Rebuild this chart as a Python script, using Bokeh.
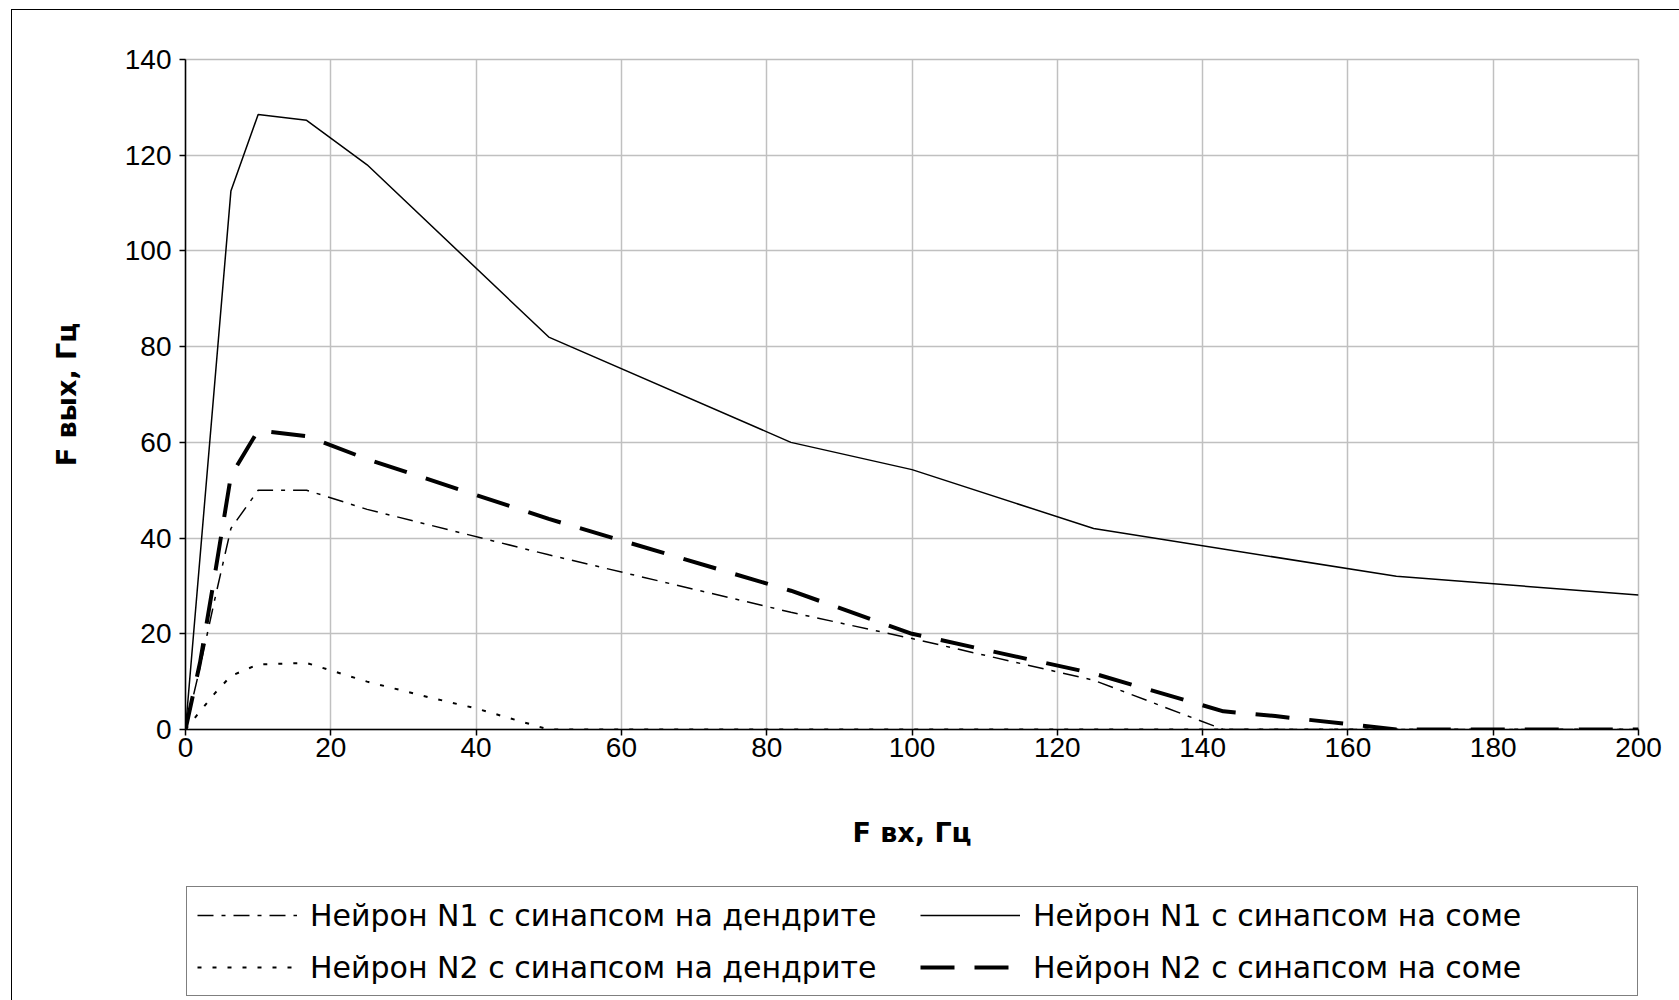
from bokeh.plotting import figure
from bokeh.models import Range1d, FixedTicker, Legend, LegendItem
from bokeh.layouts import column
from bokeh.embed import file_html
from bokeh.resources import INLINE

# Data (F in, Hz -> F out, Hz)
x_n1_dend = [0, 2, 4, 6.25, 10, 16.67, 25, 50, 83.33, 100, 125, 142.86, 200]
y_n1_dend = [0, 13, 27, 42, 50, 50, 46, 36.5, 24.5, 19, 10.3, 0, 0]

x_n1_soma = [0, 6.25, 10, 16.67, 25, 50, 83.33, 100, 125, 166.67, 200]
y_n1_soma = [0, 112.5, 128.5, 127.3, 118, 82, 60, 54.3, 42, 32, 28.1]

x_n2_dend = [0, 2, 4, 6.25, 10, 16.67, 25, 33.33, 40, 50, 200]
y_n2_dend = [0, 3.8, 7.5, 11.2, 13.6, 13.9, 10, 6.8, 4.4, 0, 0]

x_n2_soma = [0, 2, 4, 6.25, 10, 16.67, 25, 50, 83.33, 100, 125, 142.86, 150, 166.67, 200]
y_n2_soma = [0, 14, 32, 53, 62.5, 61.3, 56.5, 44, 29, 20, 11.7, 3.8, 2.8, 0, 0]

labels = [
    "Нейрон N1 с синапсом на дендрите",
    "Нейрон N1 с синапсом на соме",
    "Нейрон N2 с синапсом на дендрите",
    "Нейрон N2 с синапсом на соме",
]
x_ticks = list(range(0, 201, 20))
y_ticks = list(range(0, 141, 20))

series = [(x_n1_dend, y_n1_dend), (x_n1_soma, y_n1_soma),
          (x_n2_dend, y_n2_dend), (x_n2_soma, y_n2_soma)]

styles_def = [
    dict(line_color="black", line_width=1.5, line_dash="16 8 4 8"),
    dict(line_color="black", line_width=1.5),
    dict(line_color="black", line_width=2, line_dash="4 11"),
    dict(line_color="black", line_width=4, line_dash="34 20"),
]

p = figure(width=1667, height=860, output_backend="svg", toolbar_location=None,
           x_range=Range1d(0, 200), y_range=Range1d(0, 140),
           min_border_left=173, min_border_right=41, min_border_top=49,
           min_border_bottom=141)

p.background_fill_color = "white"
p.border_fill_color = "white"
p.outline_line_color = "#bdbdbd"
p.outline_line_width = 1.5

for g in (p.xgrid, p.ygrid):
    g.grid_line_color = "#c0c0c0"
    g.grid_line_width = 1.5

p.xaxis.ticker = FixedTicker(ticks=x_ticks)
p.yaxis.ticker = FixedTicker(ticks=y_ticks)

for ax in (p.xaxis, p.yaxis):
    ax.axis_line_color = "black"
    ax.axis_line_width = 1.5
    ax.major_tick_line_color = "black"
    ax.major_tick_line_width = 1.5
    ax.major_tick_out = 6
    ax.major_tick_in = 0
    ax.minor_tick_line_color = None
    ax.major_label_text_font = "Liberation Sans"
    ax.major_label_text_font_size = "28px"
    ax.major_label_text_color = "black"
    ax.axis_label_text_font = "DejaVu Sans"
    ax.axis_label_text_font_size = "27px"
    ax.axis_label_text_font_style = "bold"
    ax.axis_label_text_color = "black"

p.xaxis.axis_label = "F вх, Гц"
p.yaxis.axis_label = "F вых, Гц"
p.xaxis.major_label_standoff = 2
p.yaxis.major_label_standoff = 8
p.xaxis.axis_label_standoff = 57
p.yaxis.axis_label_standoff = 40

for (xs, ys), st in zip(series, styles_def):
    p.line(xs, ys, **st)

# Legend panel below the chart (its frame aligns with the chart's frame)
pl = figure(width=1667, height=130, output_backend="svg", toolbar_location=None,
            x_range=Range1d(0, 200), y_range=Range1d(1000, 1001),
            x_axis_type=None, y_axis_type=None,
            min_border_left=0, min_border_right=0, min_border_top=0, min_border_bottom=0)
pl.outline_line_color = None
pl.background_fill_color = "white"
pl.border_fill_color = "white"
pl.xgrid.visible = False
pl.ygrid.visible = False

items = []
for lab, (xs, ys), st in zip(labels, series, styles_def):
    r = pl.line(xs, ys, **st)  # lies outside this panel's visible range
    items.append(LegendItem(label=lab, renderers=[r]))

legend = Legend(items=items,
                orientation="horizontal", ncols=2, location=(1, 4),
                glyph_width=100, glyph_height=36, label_width=594, label_height=36,
                label_standoff=13, spacing=16, padding=10, margin=0,
                label_text_font="DejaVu Sans", label_text_font_size="30px",
                label_text_color="black",
                border_line_color="black", border_line_width=1.5,
                background_fill_color="white", background_fill_alpha=1.0)
pl.add_layout(legend)

layout = column(p, pl, spacing=0, margin=(9, 0, 0, 11),
                styles={"border-left": "1px solid #000", "border-top": "1px solid #000"})

open("out.html", "w").write(file_html(layout, INLINE))
